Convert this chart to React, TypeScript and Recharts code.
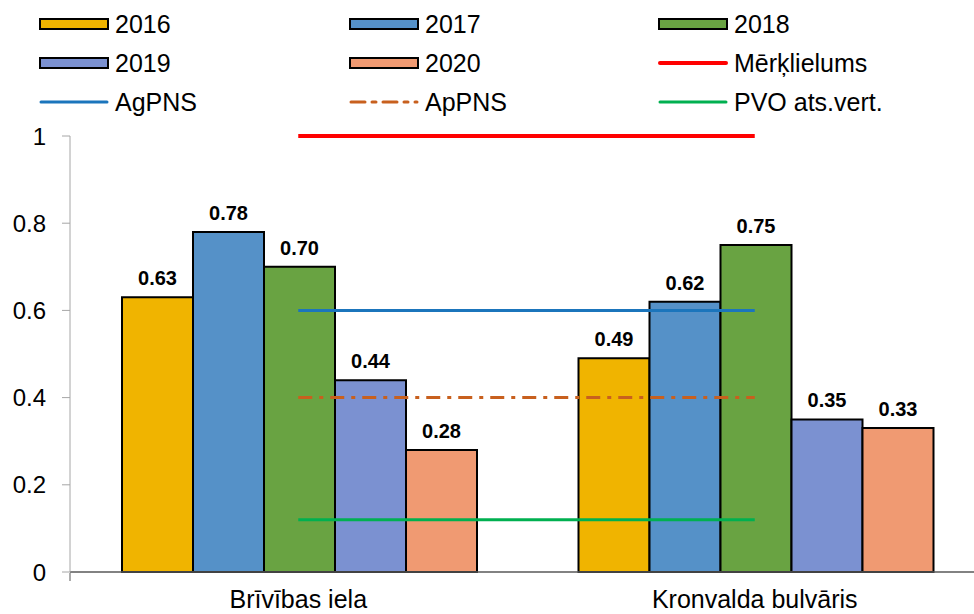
import React from 'react'
import { ComposedChart, Bar, Line, XAxis, YAxis, LabelList } from 'recharts'

const categories = ['Brīvības iela', 'Kronvalda bulvāris']
const v2016 = [0.63, 0.49]
const v2017 = [0.78, 0.62]
const v2018 = [0.7, 0.75]
const v2019 = [0.44, 0.35]
const v2020 = [0.28, 0.33]
const merkl = [1, 1]
const agpns = [0.6, 0.6]
const appns = [0.4, 0.4]
const pvo = [0.12, 0.12]
const yTicks = [0, 0.2, 0.4, 0.6, 0.8, 1]
const edgeTicks = [0, 1, 2]

const FONT = '"Liberation Sans", Arial, sans-serif'

const bars = [
  { key: 'y2016', name: '2016', color: '#F0B400' },
  { key: 'y2017', name: '2017', color: '#5591C8' },
  { key: 'y2018', name: '2018', color: '#69A342' },
  { key: 'y2019', name: '2019', color: '#7B91D1' },
  { key: 'y2020', name: '2020', color: '#F09A72' },
]

const lines = [
  { key: 'merkl', name: 'Mērķlielums', color: '#FF0000', width: 4, dash: undefined as string | undefined },
  { key: 'agpns', name: 'AgPNS', color: '#1B75BC', width: 3, dash: undefined as string | undefined },
  { key: 'appns', name: 'ApPNS', color: '#C8601E', width: 3, dash: '14 7 4 7' },
  { key: 'pvo', name: 'PVO ats.vert.', color: '#00B050', width: 3, dash: undefined as string | undefined },
]

const data = categories.map((c, i) => ({
  name: c,
  y2016: v2016[i],
  y2017: v2017[i],
  y2018: v2018[i],
  y2019: v2019[i],
  y2020: v2020[i],
  merkl: merkl[i],
  agpns: agpns[i],
  appns: appns[i],
  pvo: pvo[i],
}))

// legend order: 3 columns, row by row
const legendItems = [
  ...bars.map(b => ({ type: 'bar', name: b.name, color: b.color, width: 0, dash: undefined as string | undefined })),
  ...lines.map(l => ({ type: 'line', name: l.name, color: l.color, width: l.width, dash: l.dash })),
]
const colX = [39, 349, 658]
const rowY = [24, 63, 102]

function ChartLegend() {
  return (
    <>
      {legendItems.map((it, i) => {
        const col = i % 3
        const row = Math.floor(i / 3)
        return (
          <div
            key={it.name}
            style={{
              position: 'absolute',
              left: colX[col],
              top: rowY[row] - 15,
              height: 30,
              display: 'flex',
              alignItems: 'center',
              fontFamily: FONT,
              fontSize: 25,
              color: '#000',
              whiteSpace: 'nowrap',
            }}
          >
            <svg width={70} height={14} style={{ marginRight: 6 }}>
              {it.type === 'bar' ? (
                <rect x={1} y={2} width={68} height={10} fill={it.color} stroke="#000" strokeWidth={2} />
              ) : (
                <line x1={2} y1={7} x2={68} y2={7} stroke={it.color} strokeWidth={it.width} strokeLinecap="round" strokeDasharray={it.dash} />
              )}
            </svg>
            <span>{it.name}</span>
          </div>
        )
      })}
    </>
  )
}

export default function App() {
  return (
    <div style={{ position: 'absolute', left: 0, top: 0, width: 974, height: 614, overflow: 'hidden', background: '#fff' }}>
      <ComposedChart
        width={990}
        height={614}
        data={data}
        margin={{ top: 136, right: 7, left: 0, bottom: 40 }}
        barCategoryGap={52}
        barGap={0}
      >
        <XAxis
          dataKey="name"
          height={1}
          axisLine={{ stroke: '#595959', strokeWidth: 1.5 }}
          tickLine={false}
          tickSize={0}
          tickMargin={18}
          tick={{ fontFamily: FONT, fontSize: 25, fill: '#000' }}
          interval={0}
        />
        <XAxis
          xAxisId="edges"
          type="number"
          domain={[0, 2]}
          ticks={edgeTicks}
          height={1}
          axisLine={false}
          tick={() => <g />}
          tickLine={{ stroke: '#595959', strokeWidth: 1 }}
          tickSize={8}
          allowDataOverflow
        />
        <YAxis
          width={70}
          domain={[0, 1]}
          ticks={yTicks}
          axisLine={{ stroke: '#A6A6A6', strokeWidth: 1 }}
          tickLine={{ stroke: '#A6A6A6', strokeWidth: 1 }}
          tickSize={8}
          tickMargin={16}
          tick={{ fontFamily: FONT, fontSize: 24, fill: '#000' }}
          tickFormatter={(v: number) => String(v)}
        />
        {bars.map(b => (
          <Bar key={b.key} dataKey={b.key} name={b.name} fill={b.color} stroke="#000" strokeWidth={2} isAnimationActive={false}>
            <LabelList
              dataKey={b.key}
              position="top"
              offset={12}
              formatter={(v: number) => v.toFixed(2)}
              style={{ fontFamily: FONT, fontSize: 20, fontWeight: 'bold', fill: '#000' }}
            />
          </Bar>
        ))}
        {lines.map(l => (
          <Line
            key={l.key}
            dataKey={l.key}
            name={l.name}
            stroke={l.color}
            strokeWidth={l.width}
            strokeDasharray={l.dash}
            dot={false}
            activeDot={false}
            isAnimationActive={false}
          />
        ))}
      </ComposedChart>
      <ChartLegend />
    </div>
  )
}
